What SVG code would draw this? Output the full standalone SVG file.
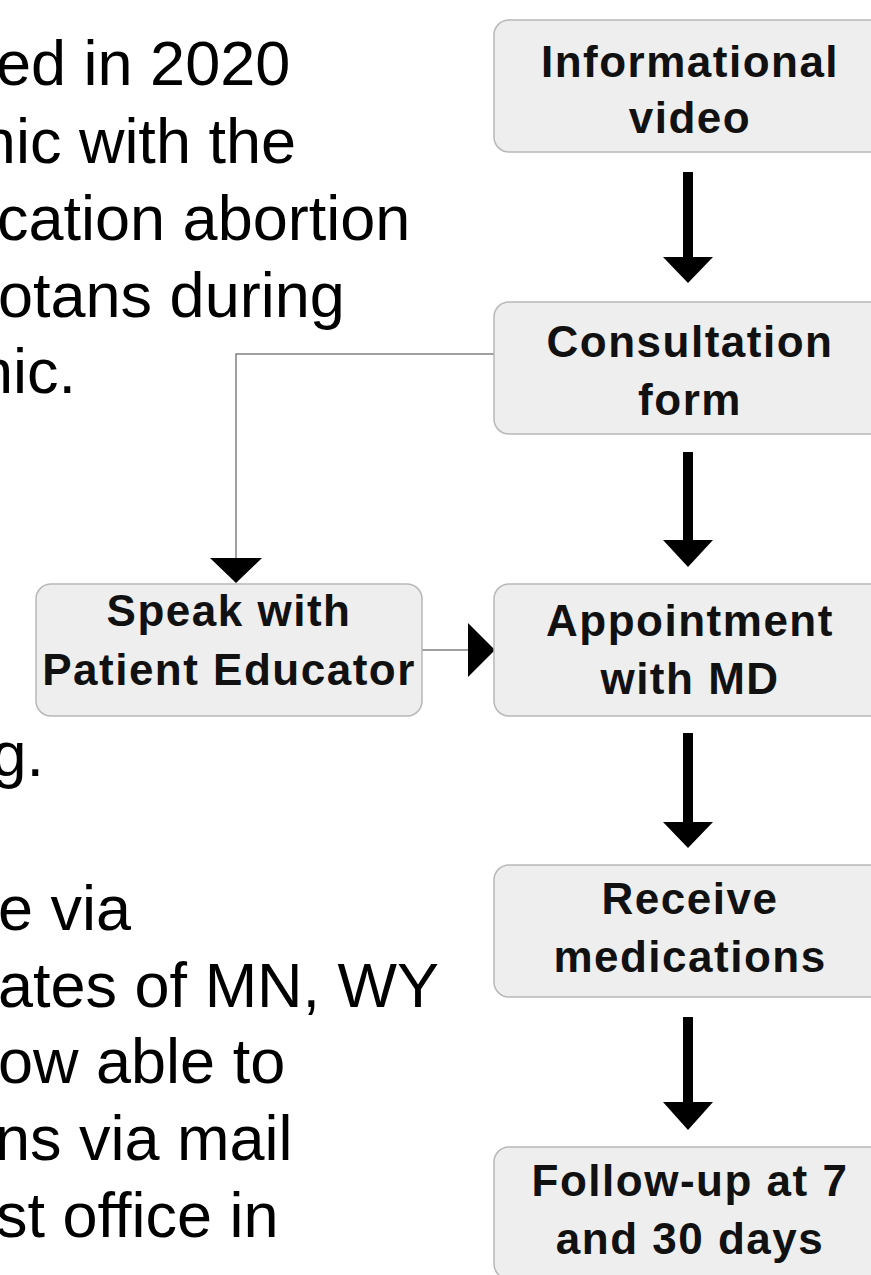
<svg xmlns="http://www.w3.org/2000/svg" width="871" height="1275" viewBox="0 0 871 1275">
<style>
.body{font-family:"Liberation Sans",Arial,sans-serif;font-size:63px;fill:#000}
.end{text-anchor:end}
.box{fill:#eeeeee;stroke:#b8b8b8;stroke-width:1.5}
.lbl{font-family:"Liberation Sans",Arial,sans-serif;font-weight:bold;font-size:44px;letter-spacing:1.5px;fill:#111;text-anchor:middle}
.thin{fill:none;stroke:#808080;stroke-width:1.5}
.head{fill:#000}
</style>
<rect width="871" height="1275" fill="#ffffff"/>
<g id="slide-text">
<text class="body" x="-4" y="85">ed in 2020</text>
<text class="body end" x="296" y="163">nic with the</text>
<text class="body" x="-3" y="240">cation abortion</text>
<text class="body" x="-2" y="317">otans during</text>
<text class="body end" x="76" y="393">nic.</text>
<text class="body end" x="44" y="776">g.</text>
<text class="body" x="-2" y="930">e via</text>
<text class="body" x="-2" y="1007">ates of MN, WY</text>
<text class="body" x="-2" y="1083">ow able to</text>
<text class="body" x="-5" y="1160">ns via mail</text>
<text class="body" x="-4" y="1237">st office in</text>
</g>
<g id="connectors">
<path class="head" d="M683,172 H693 V257 H713 L688,283 L663,257 H683 Z"/>
<path class="head" d="M683,452 H693 V540 H713 L688,567 L663,540 H683 Z"/>
<path class="head" d="M683,733 H693 V822 H713 L688,848 L663,822 H683 Z"/>
<path class="head" d="M683,1017 H693 V1102 H713 L688,1130 L663,1102 H683 Z"/>
<path class="thin" d="M494,354 H236 V560"/>
<polygon class="head" points="210,558 262,558 236,583"/>
<path class="thin" d="M422,650 H470"/>
<polygon class="head" points="468,623 468,677 495,650"/>
</g>
<g id="node-video">
<rect class="box" x="494" y="20" width="392" height="132" rx="15"/>
<text class="lbl" x="690" y="77">Informational</text>
<text class="lbl" x="690" y="133">video</text>
</g>
<g id="node-consult">
<rect class="box" x="494" y="302" width="392" height="132" rx="15"/>
<text class="lbl" x="690" y="357">Consultation</text>
<text class="lbl" x="690" y="415">form</text>
</g>
<g id="node-educator">
<rect class="box" x="36" y="584" width="386" height="132" rx="15"/>
<text class="lbl" x="229" y="626">Speak with</text>
<text class="lbl" x="229" y="685">Patient Educator</text>
</g>
<g id="node-md">
<rect class="box" x="494" y="584" width="392" height="132" rx="15"/>
<text class="lbl" x="690" y="636">Appointment</text>
<text class="lbl" x="690" y="694">with MD</text>
</g>
<g id="node-meds">
<rect class="box" x="494" y="865" width="392" height="132" rx="15"/>
<text class="lbl" x="690" y="914">Receive</text>
<text class="lbl" x="690" y="972">medications</text>
</g>
<g id="node-followup">
<rect class="box" x="494" y="1147" width="392" height="132" rx="15"/>
<text class="lbl" x="690" y="1196">Follow-up at 7</text>
<text class="lbl" x="690" y="1254">and 30 days</text>
</g>
</svg>
